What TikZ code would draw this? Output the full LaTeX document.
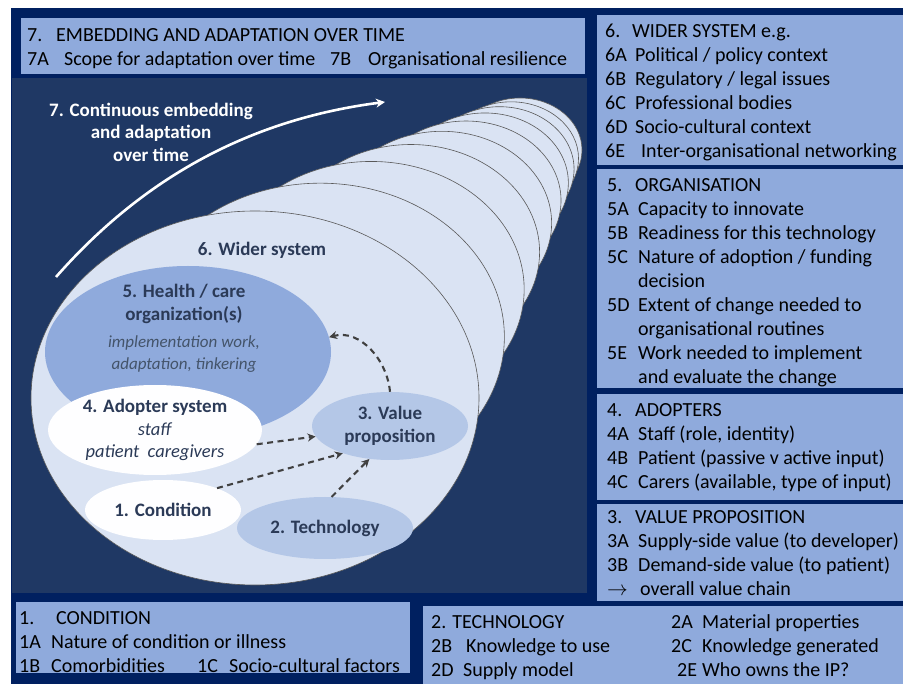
\documentclass[tikz,border=0pt]{standalone}
\usepackage{fontspec}
\setmainfont{Carlito}
\usetikzlibrary{arrows.meta,shapes.geometric}

\definecolor{navy}{HTML}{002060}
\definecolor{deepblue}{HTML}{1F3864}
\definecolor{panelblue}{HTML}{8FAADC}
\definecolor{paleblue}{HTML}{DAE3F3}
\definecolor{midblue}{HTML}{B4C7E7}
\definecolor{labelgray}{HTML}{2B3A57}
\definecolor{italgray}{HTML}{44546A}

% label of one item line, fixed width
\newcommand{\itm}[2][31pt]{\makebox[#1][l]{#2}}

\begin{document}
\begin{tikzpicture}[
    x=1pt, y=-1pt,
    panel/.style={draw=navy, line width=0.8pt, fill=panelblue, anchor=north west, inner sep=0pt},
    ptext/.style={anchor=west, align=left, inner sep=0pt, font=\fontsize{20}{24}\selectfont},
    layer/.style={ellipse, draw=black!65, line width=0.6pt, fill=paleblue, inner sep=0pt},
    blob/.style={ellipse, draw=none, inner sep=0pt, align=center, text=labelgray, font=\fontsize{19}{22.5}\selectfont},
    dlabel/.style={align=center, text=labelgray, font=\bfseries\fontsize{19}{22.5}\selectfont},
    dasharrow/.style={draw=black!75, line width=2.1pt, dash pattern=on 6pt off 4.5pt, -{Stealth[length=8pt,width=8pt]}},
    timearrow/.style={draw=white, line width=2.6pt, -{Stealth[length=9pt,width=9pt]}}
]
\useasboundingbox (0,0) rectangle (903,684);

% Background
\fill[white] (0,0) rectangle (903,684);
\fill[navy] (11,8) rectangle (903,684);
\fill[deepblue] (12,78) rectangle (587,593);

% Define panels
\node[panel, minimum width=565pt, minimum height=57pt] (p7) at (20,17) {};
\node[panel, minimum width=307pt, minimum height=151pt] (p6) at (596,14) {};
\node[panel, minimum width=307pt, minimum height=220pt] (p5) at (596,168) {};
\node[panel, minimum width=307pt, minimum height=107pt] (p4) at (596,393) {};
\node[panel, minimum width=307pt, minimum height=98pt] (p3) at (596,503) {};
\node[panel, minimum width=395pt, minimum height=72pt] (p1) at (15,601) {};
\node[panel, minimum width=481pt, minimum height=79pt] (p2) at (422,605) {};

% Panel texts
\node[ptext] (p7t) at ([xshift=7pt,yshift=-2.5pt]p7.west) {%
  \itm[29pt]{7.}EMBEDDING AND ADAPTATION OVER TIME\\
  \itm[37pt]{7A}\makebox[266pt][l]{Scope for adaptation over time}\itm[38pt]{7B}Organisational resilience};
\node[ptext] (p6t) at ([xshift=9pt,yshift=-3pt]p6.west) {%
  \itm[27pt]{6.}WIDER SYSTEM e.g.\\
  \itm[30pt]{6A}Political / policy context\\
  \itm[30pt]{6B}Regulatory / legal issues\\
  \itm[30pt]{6C}Professional bodies\\
  \itm[30pt]{6D}Socio-cultural context\\
  \itm[36pt]{6E}Inter-organisational networking};
\node[ptext] (p5t) at ([xshift=11pt,yshift=-4.5pt]p5.west) {%
  \itm[28pt]{5.}ORGANISATION\\
  \itm{5A}Capacity to innovate\\
  \itm{5B}Readiness for this technology\\
  \itm{5C}Nature of adoption / funding\\
  \itm{}decision\\
  \itm{5D}Extent of change needed to\\
  \itm{}organisational routines\\
  \itm{5E}Work needed to implement\\
  \itm{}and evaluate the change};
\node[ptext] (p4t) at ([xshift=11pt,yshift=-1pt]p4.west) {%
  \itm[28pt]{4.}ADOPTERS\\
  \itm{4A}Staff (role, identity)\\
  \itm{4B}Patient (passive v active input)\\
  \itm{4C}Carers (available, type of input)};
\node[ptext] (p3t) at ([xshift=11pt,yshift=-1pt]p3.west) {%
  \itm[28pt]{3.}VALUE PROPOSITION\\
  \itm{3A}Supply-side value (to developer)\\
  \itm{3B}Demand-side value (to patient)\\
  \itm[33pt]{$\rightarrow$}overall value chain};
\node[ptext] (p1t) at ([xshift=4pt,yshift=-5pt]p1.west) {%
  \itm[37pt]{1.}CONDITION\\
  \itm[32pt]{1A}Nature of condition or illness\\
  \itm[32pt]{1B}\makebox[146pt][l]{Comorbidities}\itm[32pt]{1C}Socio-cultural factors};
\node[ptext] (p2t) at ([xshift=9pt,yshift=-2pt]p2.west) {%
  \makebox[240pt][l]{2. TECHNOLOGY}\itm[31pt]{2A}Material properties\\
  \itm[35pt]{2B}\makebox[205pt][l]{Knowledge to use}\itm[31pt]{2C}Knowledge generated\\
  \itm[32pt]{2D}\makebox[214pt][l]{Supply model}\itm[25pt]{2E}Who owns the IP?};

% Layers of the wider system over time
\foreach \i in {9,...,0}{
  \pgfmathsetmacro{\u}{(1-0.78^\i)/(1-0.78^9)}
  \node[layer, minimum width={(448-324*\u)*1pt}, minimum height={(374-270*\u)*1pt}] (w\i) at ({255+265*\u},{398-248*\u}) {};
}

% Time arrow
\coordinate (ts) at (56,277);
\coordinate (te) at (385,102);
\draw[timearrow] (ts) .. controls (150,170) and (260,118) .. (te);
\node[dlabel, text=white] (tl) at (151,132) {7. Continuous embedding\\and adaptation\\over time};
\node[dlabel] (wl) at (262,250) {6. Wider system};

% Define domains
\node[blob, fill=panelblue, minimum width=286pt, minimum height=172pt] (h) at (188,352) {};
\node[dlabel] (hl) at (184,304) {5. Health / care\\organization(s)};
\node[align=center, text=italgray, font=\itshape\fontsize{17}{22}\selectfont] (hi) at (184,354) {implementation work,\\adaptation, tinkering};
\node[blob, fill=white!96!paleblue, minimum width=214pt, minimum height=90pt] (a) at (155,430)
  {\textbf{4. Adopter system}\\\textit{\fontsize{18.5}{22.5}\selectfont staff}\\\textit{\fontsize{18.5}{22.5}\selectfont patient\ \ caregivers}};
\node[blob, fill=midblue, minimum width=156pt, minimum height=68pt] (v) at (390,426) {\textbf{3. Value}\\\textbf{proposition}};
\node[blob, fill=white!97!paleblue, minimum width=156pt, minimum height=60pt] (c) at (163,510) {\textbf{1. Condition}};
\node[blob, fill=midblue, minimum width=176pt, minimum height=62pt] (t) at (325,528) {\textbf{2. Technology}};

% Define links
\draw[dasharrow] (a.-8) -- (v.188);
\draw[dasharrow] (c.22) -- (v.210);
\draw[dasharrow] (t.78) -- (v.238);
\draw[dasharrow] (v.north) to[out=95, in=15] (h.6);

\end{tikzpicture}
\end{document}
